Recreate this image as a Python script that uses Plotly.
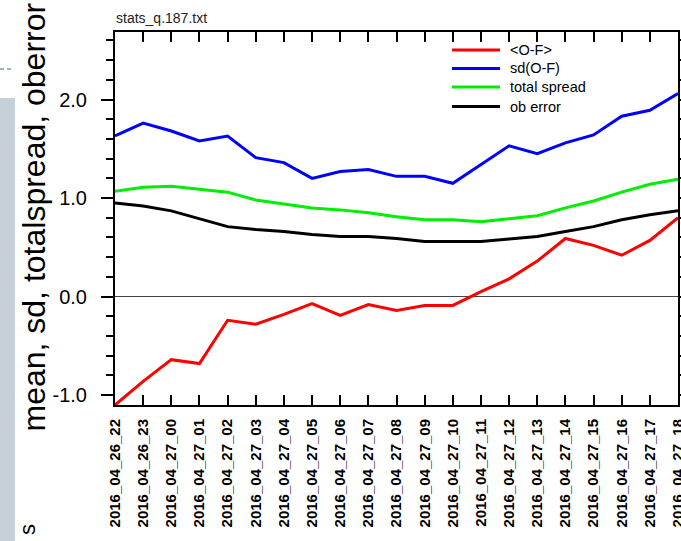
import plotly.graph_objects as go

# ---------------- data ----------------
dates = [
    "2016_04_26_22", "2016_04_26_23", "2016_04_27_00", "2016_04_27_01",
    "2016_04_27_02", "2016_04_27_03", "2016_04_27_04", "2016_04_27_05",
    "2016_04_27_06", "2016_04_27_07", "2016_04_27_08", "2016_04_27_09",
    "2016_04_27_10", "2016_04_27_11", "2016_04_27_12", "2016_04_27_13",
    "2016_04_27_14", "2016_04_27_15", "2016_04_27_16", "2016_04_27_17",
    "2016_04_27_18",
]
mean_of = [-1.10, -0.86, -0.64, -0.68, -0.24, -0.28, -0.18, -0.07, -0.19, -0.08,
           -0.14, -0.09, -0.09, 0.05, 0.18, 0.36, 0.59, 0.52, 0.42, 0.57, 0.80]
sd_of = [1.63, 1.76, 1.68, 1.58, 1.63, 1.41, 1.36, 1.20, 1.27, 1.29,
         1.22, 1.22, 1.15, 1.34, 1.53, 1.45, 1.56, 1.64, 1.83, 1.89, 2.06]
total_spread = [1.07, 1.11, 1.12, 1.09, 1.06, 0.98, 0.94, 0.90, 0.88, 0.85,
                0.81, 0.78, 0.78, 0.76, 0.79, 0.82, 0.90, 0.97, 1.06, 1.14, 1.19]
ob_error = [0.95, 0.92, 0.87, 0.79, 0.71, 0.68, 0.66, 0.63, 0.61, 0.61,
            0.59, 0.56, 0.56, 0.56, 0.585, 0.61, 0.66, 0.71, 0.78, 0.83, 0.87]

series_names = ["<O-F>", "sd(O-F)", "total spread", "ob error"]
series_colors = ["#ff0000", "#0000ff", "#00ee00", "#000000"]
ytick_vals = [-1.0, 0.0, 1.0, 2.0]
ytick_text = ["-1.0", "0.0", "1.0", "2.0"]
y_range = [-1.10, 2.685]
title_text = "stats_q.187.txt"
ylabel_text = "mean, sd, totalspread, oberror"

# ---------------- layout geometry (pixels) ----------------
W_FIG, H_FIG = 681, 541
L, R, T, B = 115, 678, 32, 405
PW, PH = R - L, B - T


def px2x(px):
    return (px - L) / PW


def py2y(py):
    return (B - py) / PH


SANS = "Liberation Sans, Arial, Helvetica, sans-serif"

fig = go.Figure()
for name, vals, col in zip(series_names, [mean_of, sd_of, total_spread, ob_error], series_colors):
    fig.add_trace(go.Scatter(
        x=dates, y=vals, mode="lines", name=name,
        line=dict(color=col, width=3), showlegend=False,
    ))

shapes = []
annotations = []

# manual legend
leg_y = [50, 68.5, 87, 106.5]
for name, col, ly in zip(series_names, series_colors, leg_y):
    shapes.append(dict(type="line", xref="paper", yref="paper",
                       x0=px2x(452), x1=px2x(500), y0=py2y(ly), y1=py2y(ly),
                       line=dict(color=col, width=3)))
    annotations.append(dict(xref="paper", yref="paper", x=px2x(508), y=py2y(ly),
                            xanchor="left", yanchor="middle", showarrow=False,
                            text=name.replace("<", "&lt;").replace(">", "&gt;"),
                            font=dict(family=SANS, size=14.5, color="black")))

# title
annotations.append(dict(xref="paper", yref="paper", x=px2x(114), y=py2y(18),
                        xanchor="left", yanchor="middle", showarrow=False,
                        text=title_text, font=dict(family=SANS, size=14, color="#222")))

# y label
annotations.append(dict(xref="paper", yref="paper", x=px2x(33), y=py2y(434),
                        xanchor="center", yanchor="bottom", showarrow=False,
                        textangle=-90, text=ylabel_text,
                        font=dict(family=SANS, size=32, color="black")))

# slide decorations on the left
shapes.append(dict(type="rect", xref="paper", yref="paper",
                   x0=px2x(0), x1=px2x(15), y0=py2y(541), y1=py2y(98),
                   fillcolor="#c6d1d7", line=dict(width=0), layer="below"))
shapes.append(dict(type="line", xref="paper", yref="paper",
                   x0=px2x(0), x1=px2x(14), y0=py2y(69), y1=py2y(69),
                   line=dict(color="#7fa0a8", width=1.5, dash="4px,3px")))
annotations.append(dict(xref="paper", yref="paper", x=px2x(27), y=py2y(529),
                        xanchor="center", yanchor="middle", showarrow=False,
                        textangle=-90, text="s",
                        font=dict(family=SANS, size=22, color="black")))

fig.update_layout(
    width=W_FIG, height=H_FIG,
    margin=dict(l=L, r=W_FIG - R, t=T, b=H_FIG - B, pad=0),
    paper_bgcolor="white", plot_bgcolor="white",
    shapes=shapes, annotations=annotations, showlegend=False,
    xaxis=dict(
        type="category", range=[0, len(dates) - 1], automargin=False,
        showline=True, linecolor="black", linewidth=2, mirror="ticks",
        ticks="inside", ticklen=10, tickwidth=1.5, tickcolor="black",
        tickangle=-90, showgrid=False, zeroline=False,
        tickfont=dict(family=SANS, size=15, color="black", weight="bold"),
        ticklabelstandoff=6,
    ),
    yaxis=dict(
        range=y_range, tickmode="array", tickvals=ytick_vals, ticktext=ytick_text,
        automargin=False,
        showline=True, linecolor="black", linewidth=2, mirror="ticks",
        ticks="outside", ticklen=12, tickwidth=1.5, tickcolor="black",
        minor=dict(tickmode="linear", tick0=0, dtick=0.2, ticks="outside",
                   ticklen=7, tickwidth=1.5, tickcolor="black", showgrid=False),
        showgrid=False, zeroline=True, zerolinecolor="#444", zerolinewidth=1,
        tickfont=dict(family=SANS, size=20, color="black"),
        ticklabelstandoff=10,
    ),
)

fig.write_html("out.html", config={"displayModeBar": False},
               post_script="document.body.style.margin='0';document.body.style.padding='0';")
